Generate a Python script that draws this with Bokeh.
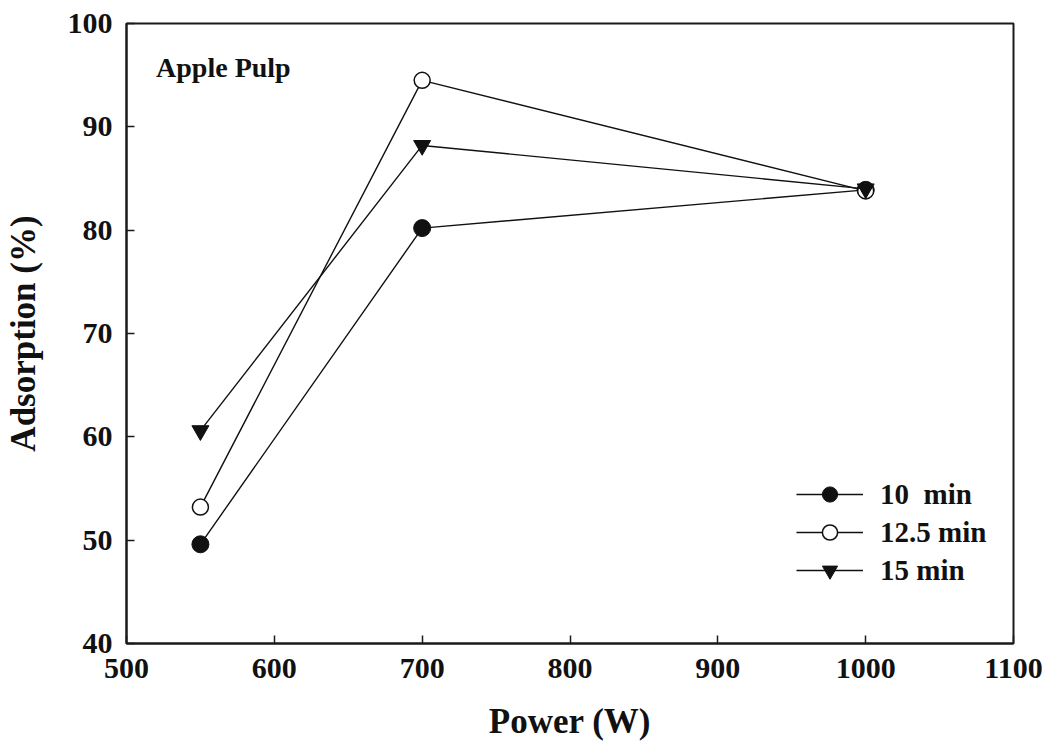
from bokeh.plotting import figure
from bokeh.models import Label, Legend, LegendItem, FixedTicker, Range1d
from bokeh.embed import file_html
from bokeh.resources import INLINE

# Microwave power (W) and adsorption (%) for each treatment time
power = [550, 700, 1000]
ads_10 = [49.6, 80.2, 83.9]
ads_12_5 = [53.2, 94.5, 83.8]
ads_15 = [60.6, 88.2, 84.0]

x_ticks = [500, 600, 700, 800, 900, 1000, 1100]
y_ticks = [40, 50, 60, 70, 80, 90, 100]

FONT = "Liberation Serif"

p = figure(width=1045, height=751, output_backend="svg", toolbar_location=None,
           x_range=Range1d(500, 1100), y_range=Range1d(40, 100),
           min_border_left=125, min_border_right=32,
           min_border_top=23, min_border_bottom=108)
p.grid.visible = False
p.background_fill_color = "white"
p.border_fill_color = "white"
p.outline_line_color = "#1a1a1a"
p.outline_line_width = 2

for ax, ticks in ((p.xaxis[0], x_ticks), (p.yaxis[0], y_ticks)):
    ax.ticker = FixedTicker(ticks=ticks)
    ax.major_tick_in = 8
    ax.major_tick_out = 0
    ax.minor_tick_line_color = None
    ax.axis_line_width = 2
    ax.axis_line_color = "#1a1a1a"
    ax.major_tick_line_width = 1.5
    ax.major_tick_line_color = "#1a1a1a"
    ax.major_label_text_font = FONT
    ax.major_label_text_font_style = "bold"
    ax.major_label_text_font_size = "30px"
    ax.major_label_text_color = "#111111"
    ax.axis_label_text_font = FONT
    ax.axis_label_text_font_style = "bold"
    ax.axis_label_text_font_size = "35px"
    ax.axis_label_text_color = "#111111"

p.xaxis.axis_label = "Power (W)"
p.yaxis.axis_label = "Adsorption (%)"
p.xaxis.major_label_standoff = 15
p.yaxis.major_label_standoff = 14
p.xaxis.axis_label_standoff = 21
p.yaxis.axis_label_standoff = 22

lw = 1.4
c = "#111111"
l1 = p.line(power, ads_10, line_color=c, line_width=lw)
m1 = p.scatter(power, ads_10, marker="circle", size=17, fill_color=c, line_color=c)
l2 = p.line(power, ads_12_5, line_color=c, line_width=lw)
m2 = p.scatter(power, ads_12_5, marker="circle", size=16, fill_color="white", line_color=c, line_width=1.5)
l3 = p.line(power, ads_15, line_color=c, line_width=lw)
m3 = p.scatter(power, ads_15, marker="inverted_triangle", size=17, fill_color=c, line_color=c)

legend = Legend(items=[
    LegendItem(label="10  min", renderers=[l1, m1]),
    LegendItem(label="12.5 min", renderers=[l2, m2]),
    LegendItem(label="15 min", renderers=[l3, m3]),
], location=(670, 54), orientation="vertical")
legend.glyph_width = 67
legend.glyph_height = 38
legend.label_height = 38
legend.spacing = 0
legend.padding = 0
legend.margin = 0
legend.label_standoff = 17
legend.border_line_color = None
legend.background_fill_alpha = 0
legend.label_text_font = FONT
legend.label_text_font_style = "bold"
legend.label_text_font_size = "29px"
legend.label_text_color = "#111111"
p.add_layout(legend, "center")

p.add_layout(Label(x=520, y=95.7, text="Apple Pulp", text_font=FONT,
                   text_font_style="bold", text_font_size="28px",
                   text_color="#111111", text_baseline="middle"))

open("out.html", "w").write(file_html(p, INLINE))
